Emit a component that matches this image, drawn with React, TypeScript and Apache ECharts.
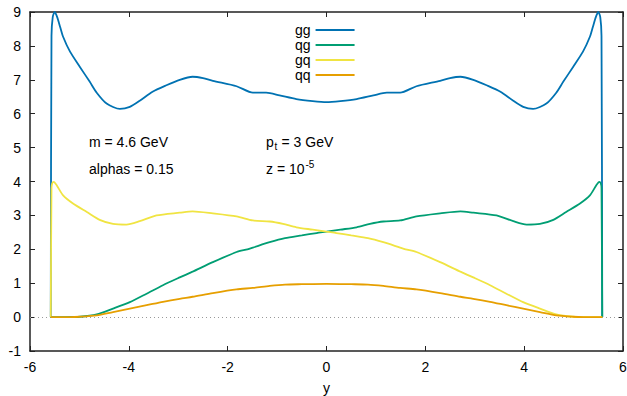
import { useEffect, useRef } from "react";
import * as echarts from "echarts";

const seriesNames = ["gg", "qg", "gq", "qq"];
const seriesColors = ["#0072b2", "#009e73", "#f0e442", "#e69f00"];

const ggData: [number, number][] = [
  [-5.58, 0], [-5.565, 8.3], [-5.54, 8.85], [-5.5, 9.0], [-5.45, 8.85], [-5.39, 8.56],
  [-5.33, 8.27], [-5.19, 7.83], [-4.99, 7.38], [-4.79, 6.94], [-4.65, 6.62], [-4.45, 6.3],
  [-4.18, 6.14], [-3.98, 6.2], [-3.78, 6.38], [-3.52, 6.65], [-3.24, 6.84], [-2.97, 7.0],
  [-2.71, 7.09], [-2.5, 7.05], [-2.3, 6.97], [-1.82, 6.81], [-1.49, 6.62], [-1.22, 6.62],
  [-0.95, 6.54], [-0.61, 6.43], [-0.28, 6.37], [0, 6.34],
  [0.28, 6.37], [0.61, 6.43], [0.95, 6.54], [1.22, 6.62], [1.49, 6.62], [1.82, 6.81],
  [2.3, 6.97], [2.5, 7.05], [2.71, 7.09], [2.97, 7.0], [3.24, 6.84], [3.52, 6.65],
  [3.78, 6.38], [3.98, 6.2], [4.18, 6.14], [4.45, 6.3], [4.65, 6.62], [4.79, 6.94],
  [4.99, 7.38], [5.19, 7.83], [5.33, 8.27], [5.39, 8.56], [5.45, 8.85], [5.5, 9.0],
  [5.54, 8.85], [5.565, 8.3], [5.58, 0],
];

const qgData: [number, number][] = [
  [-5.58, 0], [-5.3, 0.0], [-4.99, 0.01], [-4.65, 0.08], [-4.32, 0.25], [-3.98, 0.44],
  [-3.64, 0.69], [-3.31, 0.94], [-2.97, 1.17], [-2.71, 1.34], [-2.3, 1.62], [-1.82, 1.92],
  [-1.6, 2.0], [-1.49, 2.05], [-1.15, 2.21], [-0.84, 2.33], [-0.5, 2.41], [-0.2, 2.48],
  [0, 2.52], [0.28, 2.58], [0.61, 2.65], [0.88, 2.75], [1.15, 2.82], [1.49, 2.85],
  [1.82, 2.97], [2.3, 3.06], [2.71, 3.12], [2.97, 3.08], [3.44, 3.0], [3.78, 2.83],
  [4.05, 2.73], [4.32, 2.75], [4.59, 2.87], [4.85, 3.1], [5.13, 3.35], [5.33, 3.59],
  [5.46, 3.89], [5.52, 3.99], [5.55, 3.95], [5.565, 3.8], [5.58, 0],
];

const gqData: [number, number][] = [
  [-5.58, 0], [-5.565, 3.8], [-5.55, 3.95], [-5.52, 3.99], [-5.46, 3.89], [-5.33, 3.59],
  [-5.13, 3.35], [-4.85, 3.1], [-4.59, 2.87], [-4.32, 2.75], [-4.05, 2.73], [-3.78, 2.83],
  [-3.44, 3.0], [-2.97, 3.08], [-2.71, 3.12], [-2.3, 3.06], [-1.82, 2.97], [-1.49, 2.85],
  [-1.15, 2.82], [-0.88, 2.75], [-0.61, 2.65], [-0.28, 2.58], [0, 2.52],
  [0.2, 2.48], [0.5, 2.41], [0.84, 2.33], [1.15, 2.21], [1.49, 2.05], [1.6, 2.0],
  [1.82, 1.92], [2.3, 1.62], [2.71, 1.34], [2.97, 1.17], [3.31, 0.94], [3.64, 0.69],
  [3.98, 0.44], [4.32, 0.25], [4.65, 0.08], [4.99, 0.01], [5.3, 0.0], [5.58, 0],
];

const qqData: [number, number][] = [
  [-5.58, 0], [-5.2, 0.0], [-4.99, 0.01], [-4.65, 0.05], [-4.32, 0.15], [-3.98, 0.25],
  [-3.64, 0.35], [-3.31, 0.45], [-2.97, 0.54], [-2.71, 0.6], [-2.3, 0.71], [-1.82, 0.82],
  [-1.49, 0.86], [-1.15, 0.92], [-0.84, 0.96], [-0.5, 0.97], [0, 0.98],
  [0.5, 0.97], [0.84, 0.96], [1.15, 0.92], [1.49, 0.86], [1.82, 0.82], [2.3, 0.71],
  [2.71, 0.6], [2.97, 0.54], [3.31, 0.45], [3.64, 0.35], [3.98, 0.25], [4.32, 0.15],
  [4.65, 0.05], [4.99, 0.01], [5.2, 0.0], [5.58, 0],
];

const seriesData = [ggData, qgData, gqData, qqData];

const FONT = '"Liberation Sans", Arial, Helvetica, sans-serif';

export default function App() {
  const ref = useRef<HTMLDivElement>(null);
  useEffect(() => {
    if (!ref.current) return;
    document.body.style.margin = "0";
    const chart = echarts.init(ref.current, undefined, { renderer: "svg" });
    const axisLine = { show: true, onZero: false, lineStyle: { color: "#222", width: 1.5 } };
    const axisTick = { show: true, inside: true, length: 5, lineStyle: { color: "#222", width: 1 } };
    const labelStyle = { color: "#000", fontSize: 14, fontFamily: FONT };
    const txt = (text: string, x: number, y: number, size = 14) => ({
      type: "text",
      x,
      y,
      style: { text, fill: "#000", fontSize: size, fontFamily: FONT, verticalAlign: "middle" },
      silent: true,
    });
    chart.setOption({
      animation: false,
      backgroundColor: "#fff",
      grid: { left: 30, right: 4, top: 12, bottom: 45, outerBoundsMode: "none" },
      legend: {
        orient: "vertical",
        left: 290,
        top: 18,
        align: "right",
        itemWidth: 39,
        itemHeight: 14,
        itemGap: 1,
        icon: "path://M0,0 L39,0 L39,2 L0,2 Z",
        data: seriesNames,
        textStyle: labelStyle,
        selectedMode: false,
      },
      xAxis: [
        {
          type: "value",
          min: -6,
          max: 6,
          interval: 2,
          position: "bottom",
          name: "y",
          nameLocation: "middle",
          nameGap: 30,
          nameTextStyle: labelStyle,
          axisLine,
          axisTick,
          axisLabel: { ...labelStyle, margin: 9 },
          splitLine: { show: false },
        },
        {
          type: "value",
          min: -6,
          max: 6,
          interval: 2,
          position: "top",
          axisLine,
          axisTick,
          axisLabel: { show: false },
          splitLine: { show: false },
        },
      ],
      yAxis: [
        {
          type: "value",
          min: -1,
          max: 9,
          interval: 1,
          position: "left",
          axisLine,
          axisTick,
          axisLabel: { ...labelStyle, margin: 9 },
          splitLine: { show: false },
        },
        {
          type: "value",
          min: -1,
          max: 9,
          interval: 1,
          position: "right",
          axisLine,
          axisTick,
          axisLabel: { show: false },
          splitLine: { show: false },
        },
      ],
      series: seriesNames.map((name, i) => ({
        name,
        type: "line",
        data: seriesData[i],
        xAxisIndex: 0,
        yAxisIndex: 0,
        symbol: "none",
        showSymbol: false,
        smooth: 0.25,
        clip: true,
        color: seriesColors[i],
        lineStyle: { color: seriesColors[i], width: 1.8 },
        z: 3 + i,
        markLine:
          i === 0
            ? {
                silent: true,
                symbol: ["none", "none"],
                label: { show: false },
                lineStyle: { type: [1, 3], color: "#999", width: 1 },
                data: [{ yAxis: 0 }],
                z: 1,
              }
            : undefined,
      })),
      graphic: [
        txt("m = 4.6 GeV", 89, 141.7),
        txt("alphas = 0.15", 89, 169),
        txt("p", 266, 141.7),
        txt("t", 274.5, 146.5, 10),
        txt("= 3 GeV", 281.5, 141.7),
        txt("z = 10", 266, 169),
        txt("-5", 305.5, 164.5, 10),
      ],
    });
    return () => chart.dispose();
  }, []);
  return <div ref={ref} style={{ width: 627, height: 396 }} />;
}
